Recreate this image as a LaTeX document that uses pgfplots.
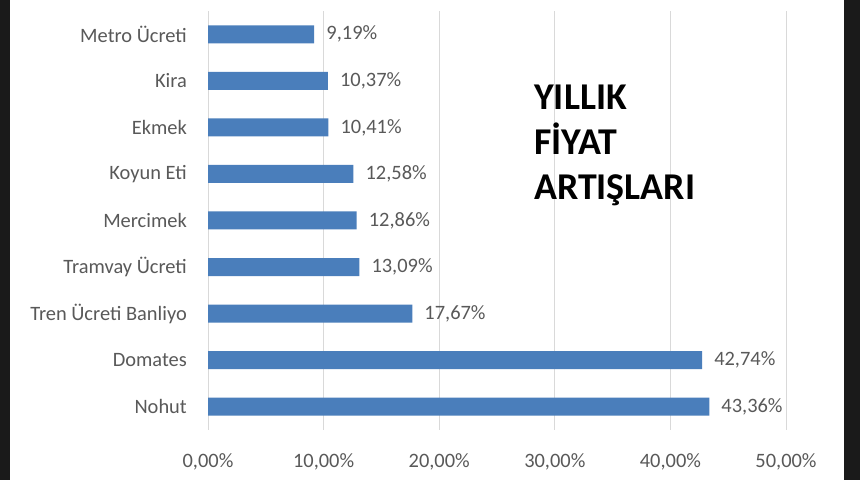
\documentclass[border=0pt]{standalone}
\usepackage{pgfplots}
\pgfplotsset{compat=1.18}
\usepackage{fontspec}
\setmainfont{Carlito}
\definecolor{barblue}{HTML}{4A7EBB}
\definecolor{txtgray}{HTML}{595959}
\definecolor{gridgray}{HTML}{D9D9D9}
\definecolor{edge}{HTML}{1A1A1A}

\begin{document}
\begin{tikzpicture}[x=1bp,y=1bp]
% screenshot frame
\fill[edge] (0,0) rectangle (860,480);
\fill[white] (10,0) rectangle (844,480);
\begin{axis}[at={(208bp,50bp)},anchor=south west,
  scale only axis,width=578bp,height=419bp,
  xbar,bar width=18bp,
  xmin=0,xmax=50,ymin=-0.5,ymax=8.5,
  xtick={0,10,...,50},
  ytick={0,...,8},
  yticklabels={Nohut,Domates,Tren Ücreti Banliyo,Tramvay Ücreti,Mercimek,Koyun Eti,Ekmek,Kira,Metro Ücreti},
  xticklabel={\pgfmathprintnumber[fixed,fixed zerofill,precision=2,use comma]{\tick}\%},
  /pgf/number format/assume math mode=true,
  axis line style={draw=none},
  xmajorgrids,major grid style={gridgray,line width=0.8pt},
  major tick length=0pt,
  tick label style={font=\fontsize{20.5}{24}\selectfont,text=txtgray},
  xticklabel style={anchor=center,yshift=-32bp},
  yticklabel style={anchor=east,inner sep=0pt,xshift=-21bp},
  nodes near coords={\pgfmathprintnumber[fixed,fixed zerofill,precision=2,use comma]{\pgfplotspointmeta}\%},
  nodes near coords style={anchor=west,inner sep=0pt,xshift=12bp,font=\fontsize{20.5}{24}\selectfont,text=txtgray},
  clip=false]
\addplot[fill=barblue,draw=none] coordinates {
(43.36,0) (42.74,1) (17.67,2) (13.09,3) (12.86,4) (12.58,5) (10.41,6) (10.37,7) (9.19,8)};
\end{axis}
\node[anchor=north west,align=left,inner sep=0pt,font=\fontsize{38}{45}\selectfont\bfseries] at (534,395) {YILLIK\\FİYAT\\ARTIŞLARI};
\pgfresetboundingbox
\useasboundingbox (0,0) rectangle (860,480);
\end{tikzpicture}
\end{document}
